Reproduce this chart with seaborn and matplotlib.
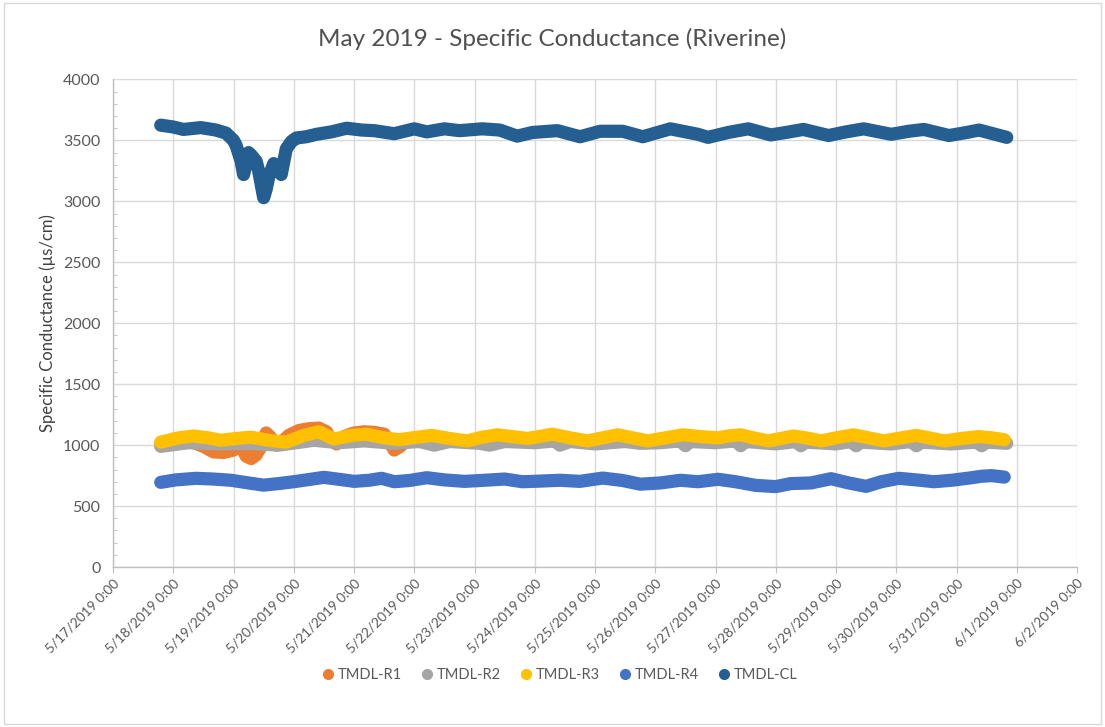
import pandas as pd
import seaborn as sns
import matplotlib.pyplot as plt
import matplotlib.dates as mdates
from matplotlib.lines import Line2D
from matplotlib.patches import Rectangle
from matplotlib.ticker import MultipleLocator, FuncFormatter

# hours after 5/17/2019 0:00 and specific conductance readings
r1_hours = [19, 25, 31, 36, 40, 44, 48, 51, 53, 55, 57, 59, 61, 63, 65, 67, 70, 74, 78, 82,
            85, 87, 89, 92, 96, 100, 104, 108, 110, 112, 114, 116]
r1_vals = [1010, 1025, 1030, 990, 945, 940, 960, 1000, 910, 890, 920, 990, 1100, 1060, 1000, 1020,
           1080, 1120, 1135, 1140, 1110, 1040, 1010, 1070, 1100, 1110, 1105, 1090, 1030, 960, 985, 1020]

r2_hours = [19, 30, 42, 54, 66, 80, 90, 100, 112, 122, 128, 134, 146, 150, 156, 168, 176, 178, 182,
            192, 204, 210, 218, 226, 228, 230, 240, 248, 250, 252, 264, 272, 274, 276, 288, 294, 296,
            298, 310, 318, 320, 322, 334, 344, 346, 348, 356]
r2_vals = [990, 1020, 1010, 1015, 1000, 1040, 1020, 1035, 1015, 1030, 1000, 1030, 1015, 1000, 1030,
           1020, 1035, 1000, 1030, 1010, 1030, 1015, 1020, 1035, 995, 1030, 1020, 1035, 995, 1030,
           1010, 1030, 995, 1025, 1010, 1030, 995, 1025, 1010, 1030, 995, 1025, 1010, 1025, 995,
           1025, 1015]

r3_hours = [19, 26, 32, 38, 43, 49, 55, 62, 69, 76, 82, 88, 95, 101, 108, 114, 121, 127, 134, 141,
            147, 153, 159, 165, 171, 175, 182, 189, 195, 201, 207, 213, 220, 227, 234, 241, 245, 250,
            255, 261, 266, 271, 276, 282, 288, 295, 301, 307, 314, 320, 325, 331, 338, 345, 350, 355]
r3_vals = [1025, 1060, 1075, 1060, 1040, 1055, 1065, 1040, 1025, 1080, 1110, 1050, 1080, 1090, 1060,
           1045, 1065, 1080, 1055, 1035, 1065, 1085, 1070, 1055, 1075, 1090, 1060, 1035, 1060, 1085,
           1060, 1035, 1060, 1085, 1070, 1060, 1075, 1085, 1060, 1035, 1055, 1075, 1060, 1035, 1060,
           1085, 1060, 1035, 1060, 1080, 1060, 1035, 1055, 1070, 1060, 1045]

r4_hours = [19, 25, 33, 40, 47, 54, 60, 66, 72, 78, 84, 90, 96, 102, 107, 112, 118, 125, 132, 140,
            148, 156, 163, 170, 178, 186, 195, 203, 210, 218, 226, 233, 241, 248, 256, 264, 270, 278,
            286, 293, 300, 306, 313, 320, 327, 334, 341, 346, 350, 355]
r4_vals = [695, 715, 728, 722, 712, 690, 672, 685, 700, 718, 736, 720, 703, 712, 728, 700, 710, 733,
           715, 703, 712, 722, 700, 705, 712, 703, 730, 710, 680, 690, 712, 700, 720, 700, 670, 660,
           685, 690, 725, 690, 662, 700, 728, 715, 700, 712, 730, 745, 750, 738]

cl_hours = [19, 24, 28, 35, 41, 45, 48, 49, 51, 52, 54, 55, 57, 58, 60, 61, 62, 64, 66, 67, 69, 71,
            73, 77, 81, 87, 93, 99, 104, 112, 120, 125, 132, 138, 147, 154, 161, 167, 177, 186, 194,
            203, 211, 222, 233, 237, 245, 253, 262, 268, 275, 285, 292, 299, 310, 317, 323, 333, 340,
            345, 356]
cl_vals = [3625, 3610, 3590, 3605, 3585, 3560, 3500, 3460, 3330, 3220, 3400, 3380, 3330, 3250, 3030,
           3100, 3200, 3310, 3280, 3220, 3430, 3490, 3520, 3530, 3550, 3570, 3600, 3585, 3580, 3555,
           3595, 3570, 3595, 3580, 3595, 3585, 3535, 3565, 3580, 3530, 3575, 3575, 3530, 3595, 3550,
           3525, 3565, 3595, 3545, 3565, 3590, 3540, 3570, 3595, 3550, 3575, 3590, 3540, 3565, 3585,
           3525]

series = {
    'TMDL-R1': (r1_hours, r1_vals),
    'TMDL-R2': (r2_hours, r2_vals),
    'TMDL-R3': (r3_hours, r3_vals),
    'TMDL-R4': (r4_hours, r4_vals),
    'TMDL-CL': (cl_hours, cl_vals),
}
colors = ['#ED7D31', '#A5A5A5', '#FFC000', '#4472C4', '#255E91']

start = pd.Timestamp('2019-05-17')
frames = []
for name, (hrs, vals) in series.items():
    assert len(hrs) == len(vals), name
    frames.append(pd.DataFrame({
        'time': start + pd.to_timedelta(hrs, unit='h'),
        'value': vals,
        'site': name,
    }))
df = pd.concat(frames, ignore_index=True)

sns.set_style('white')
plt.rcParams['font.family'] = ['Lato', 'DejaVu Sans']

fig = plt.figure(figsize=(11.05, 7.27), dpi=100)
ax = fig.add_axes([0.1023, 0.22, 0.8724, 0.6707])

sns.lineplot(data=df, x='time', y='value', hue='site', palette=colors, estimator=None,
             sort=False, linewidth=9.5, solid_capstyle='round', solid_joinstyle='round',
             legend=False, ax=ax)

ax.set_xlim(pd.Timestamp('2019-05-17'), pd.Timestamp('2019-06-02'))
ax.set_ylim(0, 4000)
ax.yaxis.set_major_locator(MultipleLocator(500))
ax.yaxis.set_minor_locator(MultipleLocator(100))
ax.xaxis.set_major_locator(mdates.DayLocator())
ax.xaxis.set_major_formatter(FuncFormatter(
    lambda v, p: (lambda d: f'{d.month}/{d.day}/{d.year} 0:00')(mdates.num2date(v))))

ax.grid(True, which='major', color='#d9d9d9', linewidth=1)
ax.set_axisbelow(True)
for s in ['top', 'right']:
    ax.spines[s].set_visible(False)
for s in ['left', 'bottom']:
    ax.spines[s].set_color('#bfbfbf')
    ax.spines[s].set_linewidth(1)

ax.tick_params(axis='y', which='major', length=0, labelsize=11.5, labelcolor='#595959', pad=9)
ax.tick_params(axis='y', which='minor', left=True, direction='in', length=3, color='#bfbfbf')
ax.tick_params(axis='x', which='major', bottom=True, direction='out', length=4, color='#bfbfbf',
               labelsize=9.8, labelcolor='#595959', pad=3)
plt.setp(ax.get_xticklabels(), rotation=45, ha='right', rotation_mode='anchor')

ax.set_xlabel('')
ax.set_ylabel('Specific Conductance (µs/cm)', fontsize=12, color='#404040', labelpad=5)
fig.suptitle('May 2019 - Specific Conductance (Riverine)', fontsize=17.5, color='#505050', y=0.962)

handles = [Line2D([], [], linestyle='none', marker='o', markersize=7, color=c) for c in colors]
fig.legend(handles, list(series.keys()), loc='center', bbox_to_anchor=(0.507, 0.0715), ncol=5,
           frameon=False, fontsize=10.5, handlelength=0.7, handletextpad=0.3, columnspacing=1.4,
           labelcolor='#595959')

fig.patches.append(Rectangle((0.004, 0.004), 0.992, 0.992, transform=fig.transFigure,
                             fill=False, edgecolor='#d9d9d9', linewidth=1))

fig.savefig('out.png', dpi=100)
